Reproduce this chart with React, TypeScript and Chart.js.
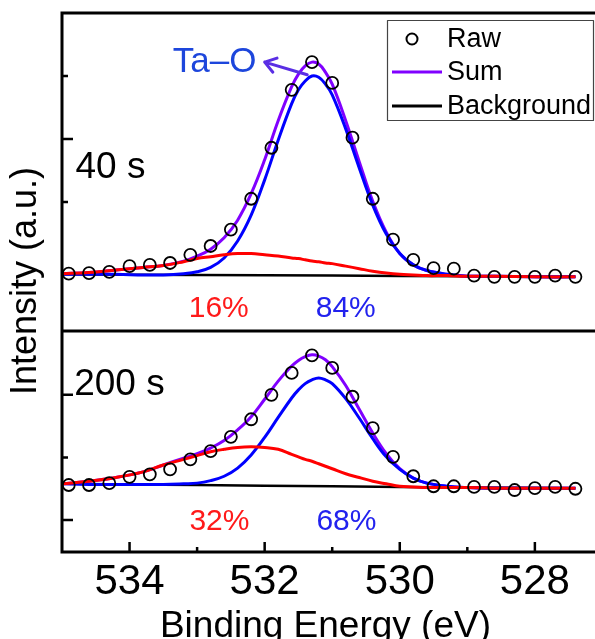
import React, { useEffect, useRef } from "react";
import { Chart, registerables } from "chart.js";

Chart.register(...registerables);

const FONT = '"Liberation Sans", Arial, Helvetica, sans-serif';

// ---- data (binding energy in eV, intensity in arbitrary units) ----
const energyRaw = [534.9, 534.6, 534.3, 534.0, 533.7, 533.4, 533.1, 532.8, 532.5, 532.2, 531.9, 531.6, 531.3, 531.0, 530.7, 530.4, 530.1, 529.8, 529.5, 529.2, 528.9, 528.6, 528.3, 528.0, 527.7, 527.4];
const rawTop = [0.86, 0.87, 0.89, 0.98, 1.0, 1.03, 1.16, 1.3, 1.56, 2.05, 2.86, 3.78, 4.22, 3.89, 3.02, 2.05, 1.4, 1.08, 0.95, 0.94, 0.83, 0.81, 0.81, 0.81, 0.83, 0.81];
const rawBottom = [0.56, 0.56, 0.59, 0.69, 0.73, 0.81, 0.97, 1.1, 1.33, 1.61, 2.0, 2.35, 2.63, 2.43, 1.97, 1.47, 1.01, 0.7, 0.54, 0.54, 0.53, 0.53, 0.48, 0.51, 0.53, 0.5];

const energyFit = [535.0, 534.6, 534.2, 533.8, 533.5, 533.2, 533.0, 532.8, 532.6, 532.4, 532.2, 532.0, 531.8, 531.6, 531.5, 531.4, 531.3, 531.2, 531.1, 531.0, 530.8, 530.6, 530.4, 530.2, 530.0, 529.8, 529.6, 529.3, 529.0, 528.6, 528.0, 527.4];
const sumTop = [0.86, 0.88, 0.92, 0.96, 0.99, 1.06, 1.14, 1.25, 1.43, 1.71, 2.13, 2.67, 3.29, 3.83, 4.03, 4.16, 4.22, 4.19, 4.06, 3.87, 3.29, 2.64, 2.01, 1.52, 1.18, 1.0, 0.91, 0.85, 0.82, 0.82, 0.81, 0.81];
const taOTop = [0.85, 0.85, 0.85, 0.84, 0.84, 0.86, 0.89, 0.96, 1.11, 1.38, 1.79, 2.35, 2.98, 3.56, 3.78, 3.92, 4.0, 3.98, 3.87, 3.7, 3.16, 2.54, 1.95, 1.49, 1.18, 1.0, 0.91, 0.85, 0.82, 0.82, 0.81, 0.81];
const secondTop = [0.86, 0.88, 0.92, 0.96, 0.99, 1.05, 1.1, 1.13, 1.16, 1.18, 1.18, 1.16, 1.14, 1.11, 1.1, 1.08, 1.06, 1.05, 1.03, 1.02, 0.98, 0.94, 0.9, 0.87, 0.85, 0.84, 0.83, 0.83, 0.82, 0.82, 0.81, 0.81];
const sumBottom = [0.58, 0.62, 0.68, 0.77, 0.88, 0.99, 1.06, 1.15, 1.27, 1.44, 1.65, 1.93, 2.22, 2.46, 2.55, 2.61, 2.64, 2.62, 2.56, 2.45, 2.15, 1.77, 1.39, 1.06, 0.82, 0.67, 0.59, 0.54, 0.52, 0.51, 0.51, 0.51];
const taOBottom = [0.58, 0.57, 0.57, 0.57, 0.57, 0.58, 0.59, 0.63, 0.7, 0.83, 1.04, 1.32, 1.64, 1.95, 2.08, 2.18, 2.24, 2.27, 2.24, 2.18, 1.94, 1.63, 1.3, 1.01, 0.81, 0.67, 0.59, 0.54, 0.52, 0.51, 0.51, 0.51];
const secondBottom = [0.58, 0.62, 0.68, 0.77, 0.88, 0.97, 1.03, 1.09, 1.13, 1.16, 1.17, 1.16, 1.13, 1.05, 1.01, 0.97, 0.94, 0.9, 0.86, 0.82, 0.74, 0.68, 0.62, 0.58, 0.54, 0.53, 0.52, 0.52, 0.52, 0.51, 0.51, 0.51];

const energyBg = [535.0, 533.0, 531.0, 529.0, 527.4];
const bgTop = [0.85, 0.84, 0.83, 0.82, 0.81];
const bgBottom = [0.58, 0.56, 0.54, 0.52, 0.51];

const xMajorTicks = [534, 532, 530, 528];
const xMinorTicks = [533, 531, 529];
const yTopMajorTicks = [3];
const yTopMinorTicks = [2, 4];
const yBottomMajorTicks = [0, 2];
const yBottomMinorTicks = [1];

const legendLabels = ["Raw", "Sum", "Background"];
const panelLabels = ["40 s", "200 s"];
const percentTop = ["16%", "84%"];
const percentBottom = ["32%", "68%"];
const peakLabel = "Ta\u2013O";
const xTitle = "Binding Energy (eV)";
const yTitle = "Intensity (a.u.)";

const PURPLE = "#8000ff";
const BLUE = "#0000ff";
const RED = "#ff0000";

const pts = (xs: number[], ys: number[]) => xs.map((x, i) => ({ x, y: ys[i] }));

const lineDs = (label: string, xs: number[], ys: number[], color: string, axis: string, width = 3) => ({
  label,
  data: pts(xs, ys),
  yAxisID: axis,
  showLine: true,
  borderColor: color,
  backgroundColor: color,
  borderWidth: width,
  pointRadius: 0,
  pointHoverRadius: 0,
  tension: 0.4,
  fill: false,
});

const rawDs = (ys: number[], axis: string) => ({
  label: "Raw",
  data: pts(energyRaw, ys),
  yAxisID: axis,
  showLine: false,
  pointRadius: 6,
  pointHoverRadius: 6,
  pointBorderWidth: 1.8,
  pointBorderColor: "#000",
  pointBackgroundColor: "rgba(0,0,0,0)",
  borderColor: "#000",
  backgroundColor: "rgba(0,0,0,0)",
});

const decorPlugin = {
  id: "decor",
  afterDraw(chart: any) {
    const { ctx, chartArea: ca, scales } = chart;
    const x = scales.x;
    const yt = scales.yTop;
    const yb = scales.yBottom;
    const f = (s: number) => `${s}px ${FONT}`;
    ctx.save();

    // frame
    ctx.strokeStyle = "#000";
    ctx.lineWidth = 3;
    ctx.lineCap = "square";
    ctx.beginPath();
    ctx.moveTo(ca.right + 2, ca.top);
    ctx.lineTo(ca.left, ca.top);
    ctx.lineTo(ca.left, ca.bottom);
    ctx.lineTo(ca.right + 2, ca.bottom);
    ctx.moveTo(ca.left, yt.bottom);
    ctx.lineTo(ca.right + 2, yt.bottom);
    ctx.stroke();

    // ticks (inward)
    ctx.lineCap = "butt";
    ctx.lineWidth = 2.5;
    ctx.beginPath();
    const yTick = (scale: any, vals: number[], len: number) =>
      vals.forEach((v) => {
        const p = scale.getPixelForValue(v);
        ctx.moveTo(ca.left, p);
        ctx.lineTo(ca.left + len, p);
      });
    yTick(yt, yTopMajorTicks, 11);
    yTick(yt, yTopMinorTicks, 6);
    yTick(yb, yBottomMajorTicks, 11);
    yTick(yb, yBottomMinorTicks, 6);
    xMajorTicks.forEach((v) => {
      const p = x.getPixelForValue(v);
      ctx.moveTo(p, ca.bottom);
      ctx.lineTo(p, ca.bottom - 10);
    });
    xMinorTicks.forEach((v) => {
      const p = x.getPixelForValue(v);
      ctx.moveTo(p, ca.bottom);
      ctx.lineTo(p, ca.bottom - 5);
    });
    ctx.stroke();

    // y title
    ctx.save();
    ctx.translate(ca.left - 35.5, (ca.top + ca.bottom) / 2 - 1.5);
    ctx.rotate(-Math.PI / 2);
    ctx.font = f(36);
    ctx.fillStyle = "#000";
    ctx.textAlign = "center";
    ctx.textBaseline = "middle";
    ctx.fillText(yTitle, 0, 0);
    ctx.restore();

    // x title
    ctx.font = f(37);
    ctx.fillStyle = "#000";
    ctx.textAlign = "center";
    ctx.textBaseline = "alphabetic";
    ctx.fillText(xTitle, x.getPixelForValue(531.1), ca.bottom + 85);

    // panel labels
    ctx.fillStyle = "#000";
    ctx.font = f(37);
    ctx.textAlign = "left";
    ctx.textBaseline = "middle";
    ctx.fillText(panelLabels[0], x.getPixelForValue(534.8), yt.getPixelForValue(2.54));
    ctx.fillText(panelLabels[1], x.getPixelForValue(534.82), yb.getPixelForValue(2.16));

    // percentages
    ctx.font = f(30);
    ctx.textAlign = "center";
    ctx.fillStyle = "#ff1a1a";
    ctx.fillText(percentTop[0], x.getPixelForValue(532.68), yt.getPixelForValue(0.31));
    ctx.fillText(percentBottom[0], x.getPixelForValue(532.67), yb.getPixelForValue(-0.02));
    ctx.fillStyle = "#2222ee";
    ctx.fillText(percentTop[1], x.getPixelForValue(530.8), yt.getPixelForValue(0.3));
    ctx.fillText(percentBottom[1], x.getPixelForValue(530.79), yb.getPixelForValue(-0.02));

    // Ta-O label and arrow
    ctx.font = f(35);
    ctx.fillStyle = "#1d46dc";
    ctx.textAlign = "center";
    ctx.fillText(peakLabel, x.getPixelForValue(532.74), yt.getPixelForValue(4.22));
    const ax0 = x.getPixelForValue(531.37), ay0 = yt.getPixelForValue(4.02);
    const ax1 = x.getPixelForValue(532.0), ay1 = yt.getPixelForValue(4.22);
    const ang = Math.atan2(ay1 - ay0, ax1 - ax0);
    ctx.strokeStyle = "#5a2ee4";
    ctx.lineWidth = 3;
    ctx.lineCap = "round";
    ctx.lineJoin = "round";
    ctx.beginPath();
    ctx.moveTo(ax0, ay0);
    ctx.lineTo(ax1, ay1);
    const hl = 13, ha = 0.6;
    ctx.moveTo(ax1 - hl * Math.cos(ang - ha), ay1 - hl * Math.sin(ang - ha));
    ctx.lineTo(ax1, ay1);
    ctx.lineTo(ax1 - hl * Math.cos(ang + ha), ay1 - hl * Math.sin(ang + ha));
    ctx.stroke();

    // legend
    const lx = ca.right - 208, ly = ca.top + 7, lw = 206, lh = 100;
    ctx.lineCap = "butt";
    ctx.strokeStyle = "#444";
    ctx.lineWidth = 1.2;
    ctx.strokeRect(lx + 0.5, ly + 0.5, lw, lh);
    const rowY = [ly + 19, ly + 52, ly + 86];
    ctx.strokeStyle = "#000";
    ctx.lineWidth = 2;
    ctx.beginPath();
    ctx.arc(lx + 25, rowY[0], 5.5, 0, Math.PI * 2);
    ctx.stroke();
    ctx.lineWidth = 3;
    ctx.strokeStyle = PURPLE;
    ctx.beginPath();
    ctx.moveTo(lx + 5, rowY[1]);
    ctx.lineTo(lx + 55, rowY[1]);
    ctx.stroke();
    ctx.strokeStyle = "#000";
    ctx.beginPath();
    ctx.moveTo(lx + 5, rowY[2]);
    ctx.lineTo(lx + 55, rowY[2]);
    ctx.stroke();
    ctx.fillStyle = "#000";
    ctx.font = f(27);
    ctx.textAlign = "left";
    ctx.textBaseline = "middle";
    legendLabels.forEach((t, i) => ctx.fillText(t, lx + 60, rowY[i] + 1));

    ctx.restore();
  },
};

export default function App() {
  const canvasRef = useRef<HTMLCanvasElement | null>(null);

  useEffect(() => {
    const canvas = canvasRef.current;
    if (!canvas) return;
    const chart = new Chart(canvas, {
      type: "scatter",
      data: {
        datasets: [
          rawDs(rawTop, "yTop"),
          rawDs(rawBottom, "yBottom"),
          lineDs("Component 2", energyFit, secondTop, RED, "yTop"),
          lineDs("Component 2", energyFit, secondBottom, RED, "yBottom"),
          lineDs("Ta-O", energyFit, taOTop, BLUE, "yTop"),
          lineDs("Ta-O", energyFit, taOBottom, BLUE, "yBottom"),
          lineDs("Sum", energyFit, sumTop, PURPLE, "yTop"),
          lineDs("Sum", energyFit, sumBottom, PURPLE, "yBottom"),
          lineDs("Background", energyBg, bgTop, "#000", "yTop", 2.5),
          lineDs("Background", energyBg, bgBottom, "#000", "yBottom", 2.5),
        ] as any,
      },
      options: {
        animation: false,
        responsive: false,
        devicePixelRatio: 1,
        layout: { autoPadding: false, padding: { left: 62, right: 0, top: 13, bottom: 27 } },
        plugins: {
          legend: { display: false },
          tooltip: { enabled: false },
          title: { display: false },
        },
        events: [],
        scales: {
          x: {
            type: "linear",
            position: "bottom",
            reverse: true,
            min: 527.11,
            max: 535,
            grid: { display: false, drawTicks: false },
            border: { display: false },
            afterBuildTicks: (s: any) => {
              s.ticks = xMajorTicks.map((v) => ({ value: v }));
            },
            ticks: {
              color: "#000",
              font: { family: FONT, size: 42, lineHeight: 1 },
              padding: 9,
              maxRotation: 0,
              autoSkip: false,
            },
            title: { display: false },
          },
          yBottom: {
            type: "linear",
            position: "left",
            stack: "panels",
            stackWeight: 221,
            min: -0.51,
            max: 3.02,
            grid: { display: false, drawTicks: false },
            border: { display: false },
            ticks: { display: false },
          },
          yTop: {
            type: "linear",
            position: "left",
            stack: "panels",
            stackWeight: 318,
            min: -0.05,
            max: 5.0,
            grid: { display: false, drawTicks: false },
            border: { display: false },
            ticks: { display: false },
          },
        } as any,
      },
      plugins: [decorPlugin],
    });
    return () => chart.destroy();
  }, []);

  return (
    <div style={{ position: "absolute", left: 0, top: 0, width: 595, height: 639, background: "#fff" }}>
      <canvas ref={canvasRef} width={595} height={639} style={{ display: "block" }} />
    </div>
  );
}
